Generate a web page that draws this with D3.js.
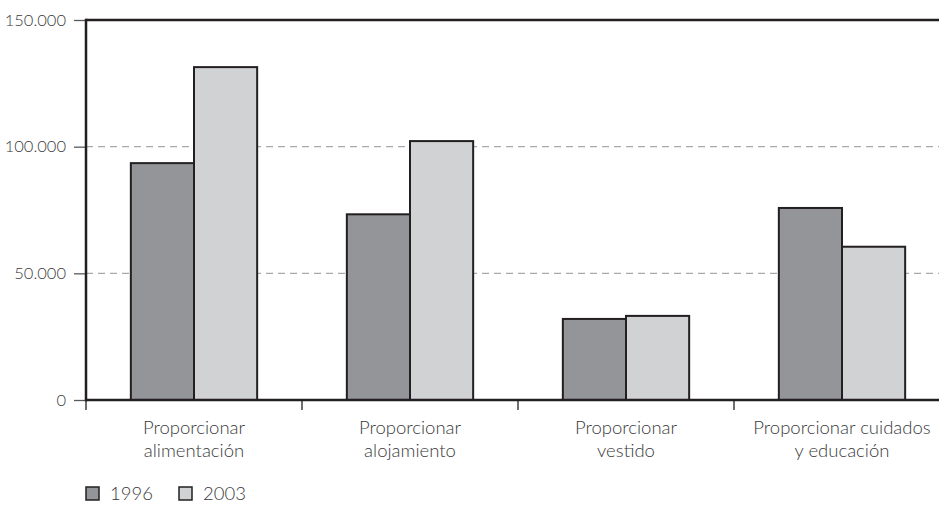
<!DOCTYPE html>
<meta charset="utf-8">
<html>
<head>
	<script src="https://d3js.org/d3.v7.min.js"></script>
	<style>
		body { margin: 0; background: #fff; }
		text { font-family: Lato, "Open Sans", sans-serif; font-weight: 300; fill: #3a3a3c; }
	</style>
</head>
<body>
<div id="chart"></div>
<script>

// data
var categorias = [
	["Proporcionar", "alimentación"],
	["Proporcionar", "alojamiento"],
	["Proporcionar", "vestido"],
	["Proporcionar cuidados", "y educación"]
];
var series = ["1996", "2003"];
var valores1996 = [93500, 73300, 32000, 75800];
var valores2003 = [131400, 102200, 33200, 60500];
var yTicks = [0, 50000, 100000, 150000];
var colores = ["#939598", "#d1d2d4"];

var width = 939, height = 505;
var margin = {top: 20, left: 86, bottom: 105};
var plotRight = 950;

var svg = d3.select("#chart")
	.append("svg")
	.attr("width", width)
	.attr("height", height);

var idx = d3.range(categorias.length);

var x0 = d3.scaleBand()
	.domain(idx)
	.range([margin.left, plotRight])
	.padding(0);

var x1 = d3.scaleBand()
	.domain(series)
	.range([0, x0.bandwidth()])
	.paddingInner(0)
	.paddingOuter(0.71);

var y = d3.scaleLinear()
	.domain([0, 150000])
	.range([height - margin.bottom, margin.top]);

var fmt = function(d) { return d3.format(",")(d).replace(/,/g, "."); };

// dashed grid
svg.selectAll("line.grid")
	.data([50000, 100000])
	.enter()
	.append("line")
	.attr("class", "grid")
	.attr("x1", margin.left)
	.attr("x2", width)
	.attr("y1", function(d) { return y(d); })
	.attr("y2", function(d) { return y(d); })
	.attr("stroke", "#a7a9ac")
	.attr("stroke-width", 1.2)
	.attr("stroke-dasharray", "7,5");

// y axis ticks + labels
var yAxis = d3.axisLeft(y)
	.tickValues(yTicks)
	.tickFormat(fmt)
	.tickSize(12)
	.tickPadding(8);

var gy = svg.append("g")
	.attr("transform", "translate(" + margin.left + ",0)")
	.call(yAxis);
gy.select(".domain").remove();
gy.selectAll(".tick line").attr("stroke", "#58595b").attr("stroke-width", 1.3);
gy.selectAll(".tick text")
	.attr("fill", "#3a3a3c")
	.style("font-size", "16.5px")
	.style("font-family", "Lato, sans-serif")
	.style("font-weight", 300);

// bars
var datos = [valores1996, valores2003];
series.forEach(function(s, si) {
	svg.selectAll("rect.s" + si)
		.data(datos[si])
		.enter()
		.append("rect")
		.attr("class", "s" + si)
		.attr("x", function(d, i) { return x0(i) + x1(s); })
		.attr("y", function(d) { return y(d); })
		.attr("width", x1.bandwidth())
		.attr("height", function(d) { return y(0) - y(d); })
		.attr("fill", colores[si])
		.attr("stroke", "#231f20")
		.attr("stroke-width", 2);
});

// x axis ticks (at band edges)
svg.selectAll("line.xtick")
	.data(idx)
	.enter()
	.append("line")
	.attr("class", "xtick")
	.attr("x1", function(d) { return x0(d); })
	.attr("x2", function(d) { return x0(d); })
	.attr("y1", y(0))
	.attr("y2", y(0) + 10)
	.attr("stroke", "#231f20")
	.attr("stroke-width", 1.3);

// frame lines
svg.append("line")
	.attr("x1", margin.left).attr("x2", width)
	.attr("y1", y(0)).attr("y2", y(0))
	.attr("stroke", "#231f20").attr("stroke-width", 2.5);
svg.append("line")
	.attr("x1", margin.left).attr("x2", width)
	.attr("y1", y(150000)).attr("y2", y(150000))
	.attr("stroke", "#231f20").attr("stroke-width", 2.5);
svg.append("line")
	.attr("x1", margin.left).attr("x2", margin.left)
	.attr("y1", y(150000) - 1.25).attr("y2", y(0) + 1.25)
	.attr("stroke", "#231f20").attr("stroke-width", 2.5);

// category labels
var labels = svg.selectAll("text.cat")
	.data(categorias)
	.enter()
	.append("text")
	.attr("class", "cat")
	.attr("text-anchor", "middle")
	.style("font-size", "18.5px")
	.attr("x", function(d, i) { return x0(i) + x0.bandwidth() / 2; })
	.attr("y", y(0) + 34);
labels.each(function(d) {
	var t = d3.select(this);
	d.forEach(function(line, li) {
		t.append("tspan")
			.attr("x", t.attr("x"))
			.attr("dy", li === 0 ? 0 : 23)
			.text(line);
	});
});

// legend
var legend = svg.selectAll("g.leg")
	.data(series)
	.enter()
	.append("g")
	.attr("class", "leg")
	.attr("transform", function(d, i) { return "translate(" + (86 + i * 93) + ",487)"; });
legend.append("rect")
	.attr("width", 13)
	.attr("height", 13)
	.attr("fill", function(d, i) { return colores[i]; })
	.attr("stroke", "#231f20")
	.attr("stroke-width", 1.5);
legend.append("text")
	.attr("x", 24)
	.attr("y", 13)
	.style("font-size", "18.5px")
	.text(function(d) { return d; });

</script>
</body>
</html>
